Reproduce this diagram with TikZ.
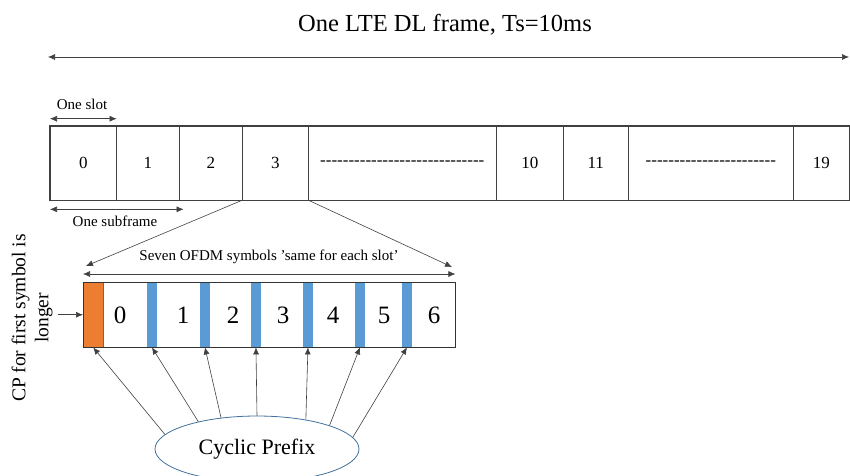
\documentclass[tikz,border=0pt]{standalone}
\usepackage{fontspec}
\setmainfont{Liberation Serif}
\usetikzlibrary{arrows.meta,shapes.geometric}
\definecolor{cpblue}{HTML}{5B9BD5}
\definecolor{cporange}{HTML}{ED7D31}
\definecolor{cpedge}{HTML}{41719C}
\newcommand{\dashfill}[1]{\foreach \k in {1,...,#1}{-}}
\begin{document}
\begin{tikzpicture}[x=1pt,y=-1pt,
  every node/.style={inner sep=0pt},
  ln/.style={draw=black!75,line width=0.6pt},
  arr/.style={ln,-{Latex[length=7pt,width=6pt]}},
  darr/.style={ln,{Latex[length=7pt,width=6pt]}-{Latex[length=7pt,width=6pt]}},
  slot/.style={draw=black!75,line width=0.6pt,minimum height=74pt,anchor=west,
    font=\fontsize{17}{20}\selectfont},
  cpbar/.style={fill=cpblue,minimum width=9.5pt,minimum height=65pt,anchor=north west},
  small/.style={font=\fontsize{15}{18}\selectfont},
  big/.style={font=\fontsize{25}{30}\selectfont}]
\useasboundingbox (0,0) rectangle (850,475);
\node[font=\fontsize{24.5}{29}\selectfont] (title) at (445,25) {One LTE DL frame, Ts=10ms};
\coordinate (fl) at (48,57);
\coordinate (fr) at (849,57);
\draw[darr] (fl) -- (fr);
\foreach \l/\r/\t/\n in {50/116/0/s0,116/179/1/s1,179/242/2/s2,242/308/3/s3,
  308/496/{\dashfill{29}}/sd1,496/563/10/s10,563/628/11/s11,
  628/793/{\dashfill{23}}/sd2,793/849/19/s19}
  \node[slot,minimum width={(\r-\l)*1pt}] (\n) at (\l,163) {\t};
\draw[draw=black!75,line width=1.3pt] (s0.north west) rectangle (s19.south east);
\node[small] (slotlbl) at (82,104) {One slot};
\draw[darr] ([yshift=7pt]s0.north west) -- ([yshift=7pt]s0.north east);
\draw[darr] ([yshift=-9pt]s0.south west) -- ([yshift=-9pt,xshift=4pt]s1.south east);
\node[small] (sublbl) at (115,221) {One subframe};
\node[fill=white,minimum width=372pt,minimum height=65pt,anchor=north west] (sym) at (83,282) {};
\node[fill=cporange,draw=cpedge,line width=0.5pt,minimum width=20pt,minimum height=65pt,
  anchor=north west] (cp0) at (83,282) {};
\foreach \x [count=\i] in {147,200,251,303,355,402}
  \node[cpbar] (cp\i) at (\x,282) {};
\foreach \x [count=\i from 0] in {120,183,233,283,333,384,434}
  \node[big] (d\i) at (\x,315) {\i};
\draw[draw=black!80,line width=0.8pt] (sym.north west) rectangle (sym.south east);
\coordinate (sl) at (86,266);
\coordinate (sr) at (452,267);
\draw[arr] (s3.south west) -- (sl);
\draw[arr] (s3.south east) -- (sr);
\node[small] (symlbl) at (269,257) {Seven OFDM symbols ’same for each slot’};
\draw[darr] ([yshift=8pt]sym.north west) -- ([yshift=8pt]sym.north east);
\node[rotate=90,align=center,font=\fontsize{19.5}{23}\selectfont] (longlbl) at (32,318)
  {CP for first symbol is\\longer};
\draw[arr] ([xshift=-25pt]cp0.west) -- (cp0.west);
\node[ellipse,draw=cpedge,fill=white,line width=0.8pt,minimum width=204pt,minimum height=66pt,
  font=\fontsize{22}{26}\selectfont] (cpell) at (257,449) {Cyclic Prefix};
\foreach \a [count=\i from 0] in {171.5,155.8,139.1,90,31.5,18.7,7.1}
  \draw[arr] (cpell.\a) -- (cp\i.south);
\end{tikzpicture}
\end{document}
